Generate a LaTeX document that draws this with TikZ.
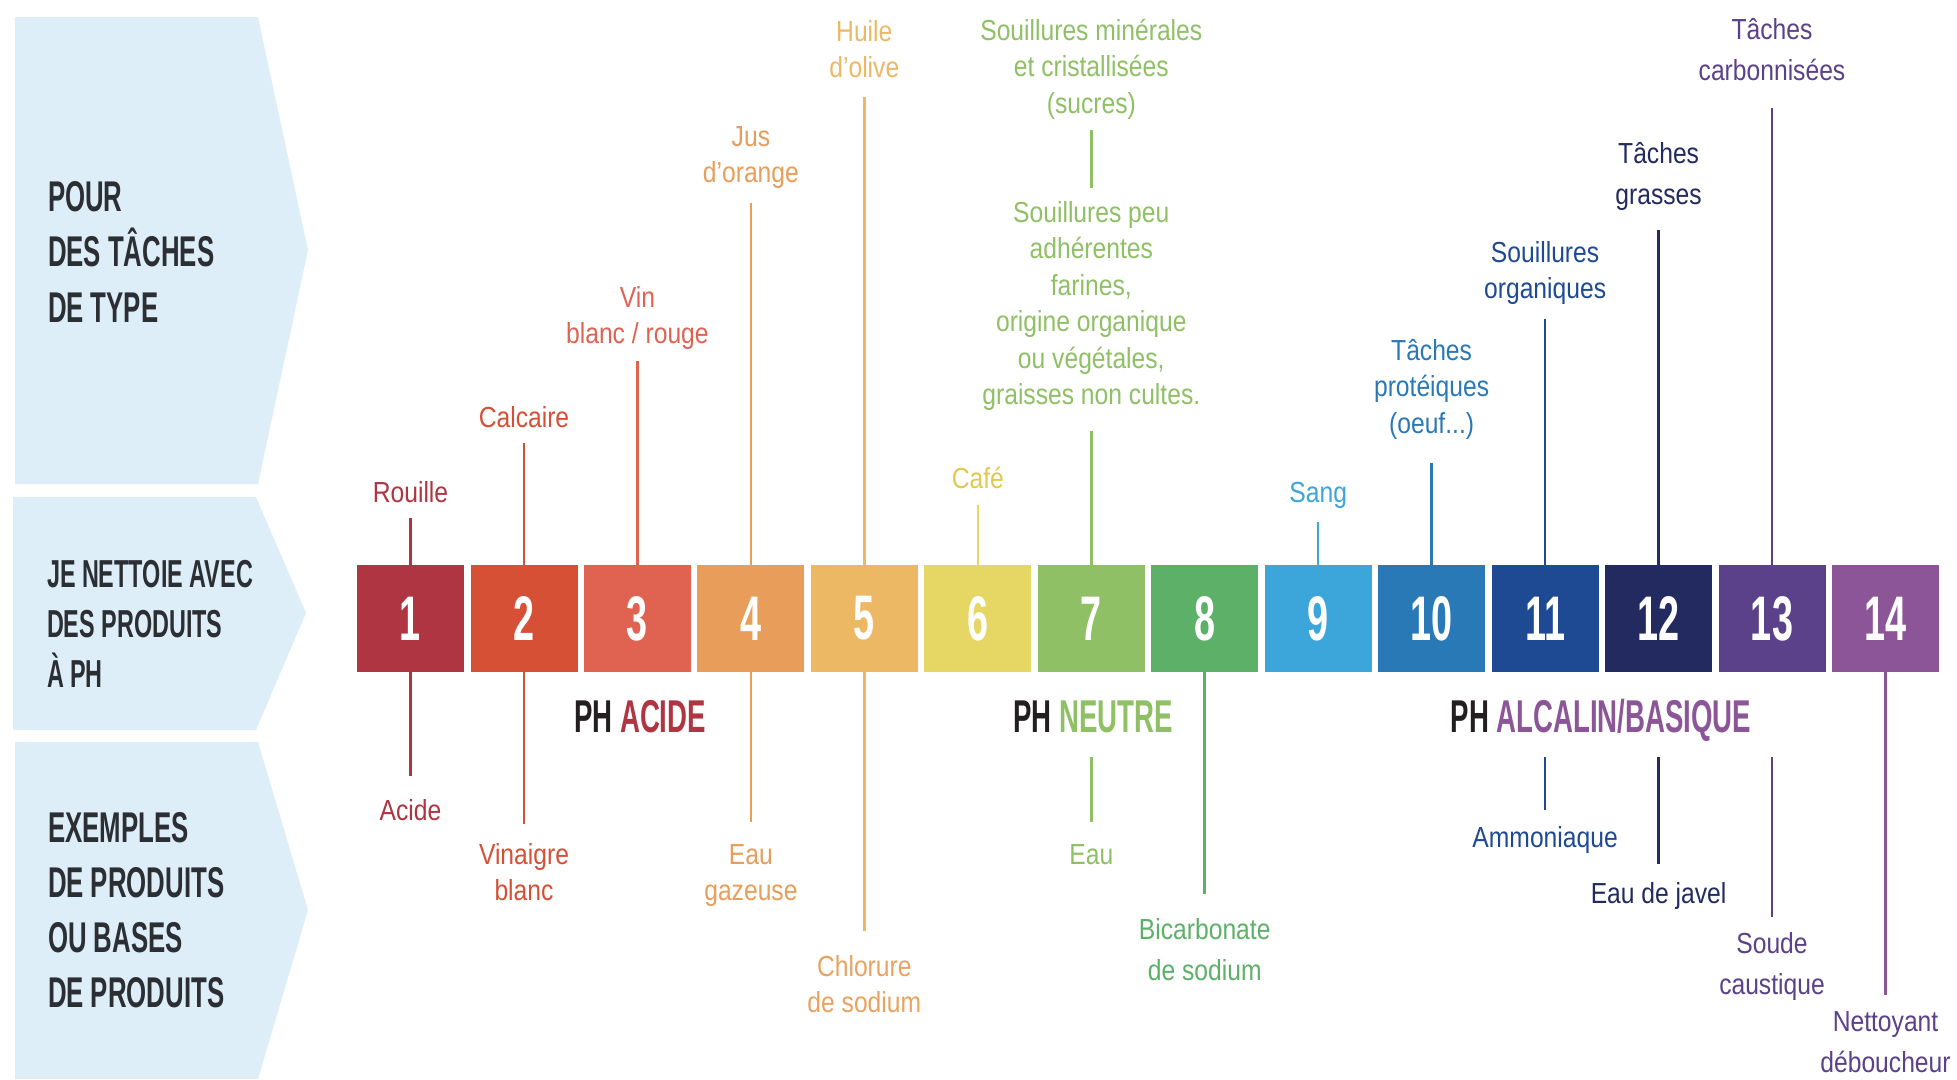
\documentclass[tikz,border=0pt]{standalone}
\usepackage{fontspec}
\setmainfont{Liberation Sans}
\newfontfamily\bebas[FakeStretch=0.6]{Liberation Sans}
\newfontfamily\narrowsans[FakeStretch=0.85]{Liberation Sans}
\definecolor{c1}{HTML}{AE3541}
\definecolor{c2}{HTML}{D65035}
\definecolor{c3}{HTML}{E06352}
\definecolor{c4}{HTML}{E89E5A}
\definecolor{c5}{HTML}{EDB864}
\definecolor{c6}{HTML}{E6D663}
\definecolor{c6t}{HTML}{E2C84E}
\definecolor{c5t}{HTML}{E9A360}
\definecolor{c7}{HTML}{8FC065}
\definecolor{c8}{HTML}{5DB068}
\definecolor{c9}{HTML}{3CA5DA}
\definecolor{c10}{HTML}{2A79B7}
\definecolor{c11}{HTML}{1E4A94}
\definecolor{c12}{HTML}{232A60}
\definecolor{c13}{HTML}{5A4189}
\definecolor{c14}{HTML}{8C5597}
\definecolor{panelblue}{HTML}{DDEEF9}
\definecolor{paneltext}{HTML}{2B2E33}
\definecolor{phdark}{HTML}{231F20}
\def\sa{25.55}
\def\sb{28.7}
\tikzset{
  panel/.style={fill=panelblue, draw=none},
  ptext/.style={anchor=north west, inner sep=0, outer sep=0, align=left, text=paneltext},
  pbox/.style={minimum width=107pt, minimum height=107pt, inner sep=0, outer sep=0, text=white,
    font=\bebas\bfseries\fontsize{63}{63}\selectfont},
  lbl/.style={anchor=north, inner sep=0, outer sep=0, align=center,
    font=\narrowsans\fontsize{29}{36.5}\selectfont},
  lblw/.style={anchor=north, inner sep=0, outer sep=0, align=center,
    font=\narrowsans\fontsize{29}{41}\selectfont},
  conn/.style={line width=2.5pt},
  phlabel/.style={anchor=base, inner sep=0, outer sep=0,
    font=\bebas\bfseries\fontsize{46}{46}\selectfont, text=phdark},
}
\begin{document}
\begin{tikzpicture}[x=1pt, y=-1pt]
\useasboundingbox (0,0) rectangle (1957,1079);
\fill[white] (0,0) rectangle (1957,1079);

% left panels
\fill[panel] (15,17) -- (258,17) -- (308,250) -- (258,484) -- (15,484) -- cycle;
\fill[panel] (13,497) -- (256,497) -- (306,613) -- (256,730) -- (13,730) -- cycle;
\fill[panel] (15,742) -- (258,742) -- (308,910) -- (258,1079) -- (15,1079) -- cycle;

\node[ptext, font=\bebas\bfseries\fontsize{43}{55.5}\selectfont] (p1) at (48,211-38.85)
  {\strut POUR\\DES TÂCHES\\DE TYPE};
\node[ptext, font=\bebas\bfseries\fontsize{39}{50}\selectfont] (p2) at (47,587-35)
  {\strut JE NETTOIE AVEC\\DES PRODUITS\\À PH};
\node[ptext, font=\bebas\bfseries\fontsize{43}{55}\selectfont] (p3) at (48,842-38.5)
  {\strut EXEMPLES\\DE PRODUITS\\OU BASES\\DE PRODUITS};

% pH boxes
\node[pbox, fill=c1]  (b1)  at (410.5,618.5) {1};
\node[pbox, fill=c2]  (b2)  at (524.0,618.5) {2};
\node[pbox, fill=c3]  (b3)  at (637.4,618.5) {3};
\node[pbox, fill=c4]  (b4)  at (750.9,618.5) {4};
\node[pbox, fill=c5]  (b5)  at (864.3,618.5) {5};
\node[pbox, fill=c6]  (b6)  at (977.8,618.5) {6};
\node[pbox, fill=c7]  (b7)  at (1091.3,618.5) {7};
\node[pbox, fill=c8]  (b8)  at (1204.7,618.5) {8};
\node[pbox, fill=c9]  (b9)  at (1318.2,618.5) {9};
\node[pbox, fill=c10] (b10) at (1431.6,618.5) {10};
\node[pbox, fill=c11] (b11) at (1545.1,618.5) {11};
\node[pbox, fill=c12] (b12) at (1658.6,618.5) {12};
\node[pbox, fill=c13] (b13) at (1772.0,618.5) {13};
\node[pbox, fill=c14] (b14) at (1885.5,618.5) {14};

% pH group labels
\node[phlabel] (phA) at (640,732) {PH \textcolor{c1}{ACIDE}};
\node[phlabel] (phN) at (1093,732) {PH \textcolor{c7}{NEUTRE}};
\node[phlabel] (phB) at (1601,732) {PH \textcolor{c14}{ALCALIN/BASIQUE}};

% ---------- top labels ----------
\node[lbl, text=c1] (t1) at (410.5,502-\sa) {\strut Rouille};
\coordinate (t1e) at (410.5,518);
\draw[conn, c1] (t1e) -- (b1.north);

\node[lbl, text=c2] (t2) at (524.0,427-\sa) {\strut Calcaire};
\coordinate (t2e) at (524.0,443);
\draw[conn, c2] (t2e) -- (b2.north);

\node[lbl, text=c3] (t3) at (637.4,307-\sa) {\strut Vin\\blanc / rouge};
\coordinate (t3e) at (637.4,361);
\draw[conn, c3] (t3e) -- (b3.north);

\node[lbl, text=c4] (t4) at (750.9,146-\sa) {\strut Jus\\d’orange};
\coordinate (t4e) at (750.9,203);
\draw[conn, c4] (t4e) -- (b4.north);

\node[lbl, text=c5] (t5) at (864.3,41-\sa) {\strut Huile\\d’olive};
\coordinate (t5e) at (864.3,97);
\draw[conn, c5] (t5e) -- (b5.north);

\node[lbl, text=c6t] (t6) at (977.8,488-\sa) {\strut Café};
\coordinate (t6e) at (977.8,505);
\draw[conn, c6] (t6e) -- (b6.north);

\node[lbl, text=c7] (t7a) at (1091.3,40-\sa) {\strut Souillures minérales\\et cristallisées\\(sucres)};
\node[lbl, text=c7] (t7b) at (1091.3,222-\sa) {\strut Souillures peu\\adhérentes\\farines,\\origine organique\\ou végétales,\\graisses non cultes.};
\coordinate (t7a1) at (1091.3,130);
\coordinate (t7a2) at (1091.3,188);
\draw[conn, c7] (t7a1) -- (t7a2);
\coordinate (t7e) at (1091.3,431);
\draw[conn, c7] (t7e) -- (b7.north);

\node[lbl, text=c9] (t9) at (1318.2,502-\sa) {\strut Sang};
\coordinate (t9e) at (1318.2,522);
\draw[conn, c9] (t9e) -- (b9.north);

\node[lbl, text=c10] (t10) at (1431.6,360-\sa) {\strut Tâches\\protéiques\\(oeuf...)};
\coordinate (t10e) at (1431.6,463);
\draw[conn, c10] (t10e) -- (b10.north);

\node[lbl, text=c11] (t11) at (1545.1,262-\sa) {\strut Souillures\\organiques};
\coordinate (t11e) at (1545.1,319);
\draw[conn, c11] (t11e) -- (b11.north);

\node[lblw, text=c12] (t12) at (1658.6,163-\sb) {\strut Tâches\\grasses};
\coordinate (t12e) at (1658.6,230);
\draw[conn, c12] (t12e) -- (b12.north);

\node[lblw, text=c13] (t13) at (1772.0,39-\sb) {\strut Tâches\\carbonnisées};
\coordinate (t13e) at (1772.0,108);
\draw[conn, c13] (t13e) -- (b13.north);

% ---------- bottom labels ----------
\coordinate (u1e) at (410.5,776);
\draw[conn, c1] (b1.south) -- (u1e);
\node[lbl, text=c1] (u1) at (410.5,820-\sa) {\strut Acide};

\coordinate (u2e) at (524.0,824);
\draw[conn, c2] (b2.south) -- (u2e);
\node[lbl, text=c2] (u2) at (524.0,864-\sa) {\strut Vinaigre\\blanc};

\coordinate (u4e) at (750.9,822);
\draw[conn, c4] (b4.south) -- (u4e);
\node[lbl, text=c4] (u4) at (750.9,864-\sa) {\strut Eau\\gazeuse};

\coordinate (u5e) at (864.3,931);
\draw[conn, c5] (b5.south) -- (u5e);
\node[lbl, text=c5t] (u5) at (864.3,976-\sa) {\strut Chlorure\\de sodium};

\coordinate (u7s) at (1091.3,757);
\coordinate (u7e) at (1091.3,822);
\draw[conn, c7] (u7s) -- (u7e);
\node[lbl, text=c7] (u7) at (1091.3,864-\sa) {\strut Eau};

\coordinate (u8e) at (1204.7,894);
\draw[conn, c8] (b8.south) -- (u8e);
\node[lblw, text=c8] (u8) at (1204.7,939-\sb) {\strut Bicarbonate\\de sodium};

\coordinate (u11s) at (1545.1,757);
\coordinate (u11e) at (1545.1,810);
\draw[conn, c11] (u11s) -- (u11e);
\node[lbl, text=c11] (u11) at (1545.1,847-\sa) {\strut Ammoniaque};

\coordinate (u12s) at (1658.6,757);
\coordinate (u12e) at (1658.6,864);
\draw[conn, c12] (u12s) -- (u12e);
\node[lbl, text=c12] (u12) at (1658.6,903-\sa) {\strut Eau de javel};

\coordinate (u13s) at (1772.0,757);
\coordinate (u13e) at (1772.0,917);
\draw[conn, c13] (u13s) -- (u13e);
\node[lblw, text=c13] (u13) at (1772.0,953-\sb) {\strut Soude\\caustique};

\coordinate (u14e) at (1885.5,995);
\draw[conn, c14] (b14.south) -- (u14e);
\node[lblw, text=c13] (u14) at (1885.5,1031-\sb) {\strut Nettoyant\\déboucheur};
\end{tikzpicture}
\end{document}
